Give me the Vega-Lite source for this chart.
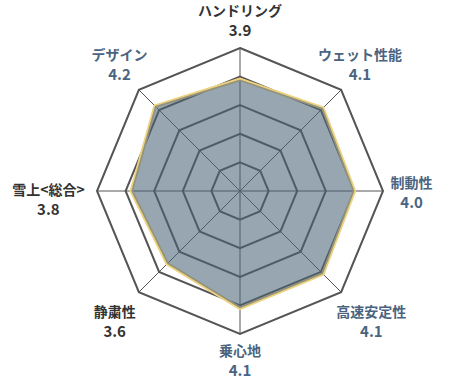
{
  "$schema": "https://vega.github.io/schema/vega-lite/v6.json",
  "width": 460,
  "height": 379,
  "padding": 0,
  "autosize": "none",
  "background": "white",
  "config": {"view": {"stroke": null}},
  "datasets": {
    "scores": [
      {"i": 0, "name": "ハンドリング", "score": 3.9},
      {"i": 1, "name": "ウェット性能", "score": 4.1},
      {"i": 2, "name": "制動性", "score": 4.0},
      {"i": 3, "name": "高速安定性", "score": 4.1},
      {"i": 4, "name": "乗心地", "score": 4.1},
      {"i": 5, "name": "静粛性", "score": 3.6},
      {"i": 6, "name": "雪上<総合>", "score": 3.8},
      {"i": 7, "name": "デザイン", "score": 4.2}
    ],
    "rings": [
      {"level": 1, "k": [0, 1, 2, 3, 4, 5, 6, 7]},
      {"level": 2, "k": [0, 1, 2, 3, 4, 5, 6, 7]},
      {"level": 3, "k": [0, 1, 2, 3, 4, 5, 6, 7]},
      {"level": 4, "k": [0, 1, 2, 3, 4, 5, 6, 7]},
      {"level": 5, "k": [0, 1, 2, 3, 4, 5, 6, 7]}
    ]
  },
  "layer": [
    {
      "data": {"name": "rings"},
      "transform": [
        {"flatten": ["k"]},
        {"calculate": "datum.level * sin(datum.k * PI / 4)", "as": "gx"},
        {"calculate": "datum.level * cos(datum.k * PI / 4)", "as": "gy"}
      ],
      "mark": {"type": "line", "interpolate": "linear-closed", "stroke": "#555555", "strokeWidth": 2},
      "encoding": {
        "x": {"field": "gx", "type": "quantitative", "scale": {"domain": [-8.392, 7.692], "nice": false, "zero": false}, "axis": null},
        "y": {"field": "gy", "type": "quantitative", "scale": {"domain": [-6.573, 6.678], "nice": false, "zero": false}, "axis": null},
        "detail": {"field": "level", "type": "nominal"},
        "order": {"field": "k", "type": "quantitative"}
      }
    },
    {
      "data": {"name": "scores"},
      "transform": [
        {"calculate": "0", "as": "ox"},
        {"calculate": "5 * sin(datum.i * PI / 4)", "as": "sx"},
        {"calculate": "5 * cos(datum.i * PI / 4)", "as": "sy"}
      ],
      "mark": {"type": "rule", "stroke": "#555555", "strokeWidth": 1},
      "encoding": {
        "x": {"field": "ox", "type": "quantitative", "scale": {"domain": [-8.392, 7.692], "nice": false, "zero": false}, "axis": null},
        "y": {"field": "ox", "type": "quantitative", "scale": {"domain": [-6.573, 6.678], "nice": false, "zero": false}, "axis": null},
        "x2": {"field": "sx"},
        "y2": {"field": "sy"}
      }
    },
    {
      "data": {"name": "scores"},
      "transform": [
        {"calculate": "datum.score * sin(datum.i * PI / 4)", "as": "px"},
        {"calculate": "datum.score * cos(datum.i * PI / 4)", "as": "py"}
      ],
      "mark": {"type": "line", "interpolate": "linear-closed", "stroke": "#efd27f", "strokeWidth": 3.5},
      "encoding": {
        "x": {"field": "px", "type": "quantitative", "scale": {"domain": [-8.392, 7.692], "nice": false, "zero": false}, "axis": null},
        "y": {"field": "py", "type": "quantitative", "scale": {"domain": [-6.573, 6.678], "nice": false, "zero": false}, "axis": null},
        "order": {"field": "i", "type": "quantitative"}
      }
    },
    {
      "data": {"name": "scores"},
      "transform": [
        {"calculate": "datum.score * sin(datum.i * PI / 4)", "as": "px"},
        {"calculate": "datum.score * cos(datum.i * PI / 4)", "as": "py"}
      ],
      "mark": {"type": "line", "interpolate": "linear-closed", "fill": "#4a6278", "fillOpacity": 0.57, "strokeWidth": 0, "strokeOpacity": 0},
      "encoding": {
        "x": {"field": "px", "type": "quantitative", "scale": {"domain": [-8.392, 7.692], "nice": false, "zero": false}, "axis": null},
        "y": {"field": "py", "type": "quantitative", "scale": {"domain": [-6.573, 6.678], "nice": false, "zero": false}, "axis": null},
        "order": {"field": "i", "type": "quantitative"}
      }
    },
    {
      "data": {"name": "scores"},
      "transform": [
        {"calculate": "6 * sin(datum.i * PI / 4) + [0, -0.05, 0, 0.35, 0, -0.14, -0.7, 0.03][datum.i]", "as": "lx"},
        {"calculate": "6 * cos(datum.i * PI / 4) + [-0.04, 0.18, -0.06, -0.35, 0.04, -0.35, -0.33, 0.16][datum.i]", "as": "ly"}
      ],
      "mark": {"type": "text", "align": "center", "baseline": "middle", "dy": -9, "font": "Noto Sans CJK JP", "fontSize": 14, "fontWeight": "bold"},
      "encoding": {
        "x": {"field": "lx", "type": "quantitative", "scale": {"domain": [-8.392, 7.692], "nice": false, "zero": false}, "axis": null},
        "y": {"field": "ly", "type": "quantitative", "scale": {"domain": [-6.573, 6.678], "nice": false, "zero": false}, "axis": null},
        "text": {"field": "name", "type": "nominal"},
        "color": {"condition": {"test": "datum.score >= 4", "value": "#4a6480"}, "value": "#333333"}
      }
    },
    {
      "data": {"name": "scores"},
      "transform": [
        {"calculate": "6 * sin(datum.i * PI / 4) + [0, -0.05, 0, 0.35, 0, -0.14, -0.7, 0.03][datum.i]", "as": "lx"},
        {"calculate": "6 * cos(datum.i * PI / 4) + [-0.04, 0.18, -0.06, -0.35, 0.04, -0.35, -0.33, 0.16][datum.i]", "as": "ly"}
      ],
      "mark": {"type": "text", "align": "center", "baseline": "middle", "dy": 10, "font": "Noto Sans CJK JP", "fontSize": 15, "fontWeight": "bold"},
      "encoding": {
        "x": {"field": "lx", "type": "quantitative", "scale": {"domain": [-8.392, 7.692], "nice": false, "zero": false}, "axis": null},
        "y": {"field": "ly", "type": "quantitative", "scale": {"domain": [-6.573, 6.678], "nice": false, "zero": false}, "axis": null},
        "text": {"field": "score", "type": "quantitative", "format": ".1f"},
        "color": {"condition": {"test": "datum.score >= 4", "value": "#4a6480"}, "value": "#333333"}
      }
    }
  ]
}
